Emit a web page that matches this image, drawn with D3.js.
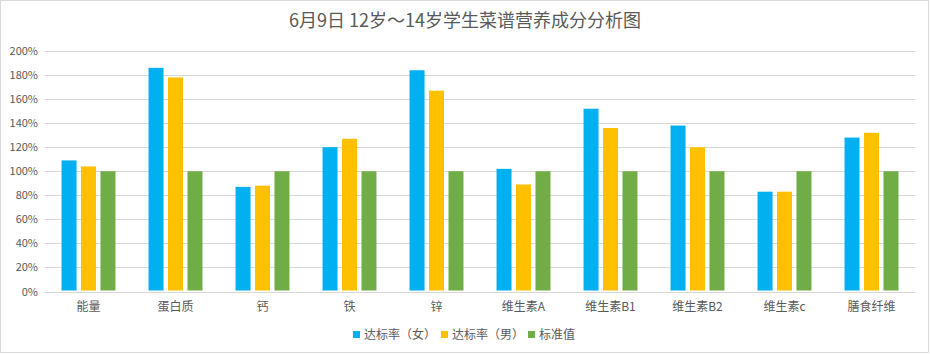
<!DOCTYPE html>
<html>
<head>
<meta charset="utf-8">
<script src="https://cdn.jsdelivr.net/npm/d3@7"></script>
<style>
  body { margin: 0; background: #fff; }
  svg { display: block; font-family: "Noto Sans CJK SC", "Noto Sans", sans-serif; }
</style>
</head>
<body>
<div id="chart"></div>
<script>
// categories and series
const categories = ["能量", "蛋白质", "钙", "铁", "锌", "维生素A", "维生素B1", "维生素B2", "维生素c", "膳食纤维"];
const seriesNames = ["达标率（女）", "达标率（男）", "标准值"];
const female = [1.09, 1.86, 0.87, 1.20, 1.84, 1.02, 1.52, 1.38, 0.83, 1.28];
const male   = [1.04, 1.78, 0.88, 1.27, 1.67, 0.89, 1.36, 1.20, 0.83, 1.32];
const standard = [1.00, 1.00, 1.00, 1.00, 1.00, 1.00, 1.00, 1.00, 1.00, 1.00];
const yTicks = [0, 0.2, 0.4, 0.6, 0.8, 1.0, 1.2, 1.4, 1.6, 1.8, 2.0];
const colors = ["#00b0f0", "#ffc000", "#70ad47"];

((() => {
  const W = 930, H = 354;
  const margin = { top: 51, left: 45, right: 15, bottom: 63 };

  const svg = d3.select("#chart").append("svg")
    .attr("width", W)
    .attr("height", H);

  // outer frame
  svg.append("rect")
    .attr("x", 0.5).attr("y", 0.5)
    .attr("width", W - 2).attr("height", H - 2)
    .attr("fill", "#fff")
    .attr("stroke", "#d9d9d9");

  const x0 = d3.scaleBand()
    .domain(categories)
    .range([margin.left, W - margin.right])
    .paddingInner(0.38)
    .paddingOuter(0.19);

  const x1 = d3.scaleBand()
    .domain(seriesNames)
    .range([0, x0.bandwidth()])
    .paddingInner(0.23);

  const y = d3.scaleLinear()
    .domain([0, 2])
    .range([H - margin.bottom + 0.5, margin.top]);

  // gridlines
  svg.append("g").selectAll("line")
    .data(yTicks)
    .enter().append("line")
    .attr("x1", margin.left).attr("x2", W - margin.right)
    .attr("y1", d => Math.round(y(d)) + 0.5)
    .attr("y2", d => Math.round(y(d)) + 0.5)
    .attr("stroke", "#d9d9d9")
    .attr("stroke-width", 1);

  // y tick labels
  svg.append("g").selectAll("text")
    .data(yTicks)
    .enter().append("text")
    .attr("x", 38)
    .attr("y", d => y(d) + 4)
    .attr("text-anchor", "end")
    .attr("font-size", 11)
    .attr("fill", "#595959")
    .text(d => Math.round(d * 100) + "%");

  const table = categories.map((c, i) => ({
    cat: c,
    vals: [female[i], male[i], standard[i]]
  }));

  const groups = svg.append("g").selectAll("g")
    .data(table)
    .enter().append("g")
    .attr("transform", d => "translate(" + x0(d.cat) + ",0)");

  groups.selectAll("rect")
    .data(d => d.vals.map((v, j) => ({ name: seriesNames[j], v: v, j: j })))
    .enter().append("rect")
    .attr("x", d => x1(d.name))
    .attr("width", x1.bandwidth())
    .attr("y", d => y(d.v))
    .attr("height", d => y(0) - 1 - y(d.v))
    .attr("fill", d => colors[d.j]);

  // x labels
  svg.append("g").selectAll("text")
    .data(categories)
    .enter().append("text")
    .attr("x", d => x0(d) + x0.bandwidth() / 2)
    .attr("y", 311)
    .attr("text-anchor", "middle")
    .attr("font-size", 12)
    .attr("fill", "#595959")
    .text(d => d);

  // title
  svg.append("text")
    .attr("x", 465)
    .attr("y", 27)
    .attr("text-anchor", "middle")
    .attr("font-size", 18)
    .attr("fill", "#595959")
    .text("6月9日 12岁～14岁学生菜谱营养成分分析图");

  // legend
  const legendX = [353, 441, 528];
  const legend = svg.append("g").selectAll("g")
    .data(seriesNames)
    .enter().append("g")
    .attr("transform", (d, i) => "translate(" + legendX[i] + ",331)");

  legend.append("rect")
    .attr("width", 7).attr("height", 7)
    .attr("fill", (d, i) => colors[i]);

  legend.append("text")
    .attr("x", 11)
    .attr("y", 7.5)
    .attr("font-size", 12)
    .attr("fill", "#595959")
    .text(d => d);
})());
</script>
</body>
</html>
